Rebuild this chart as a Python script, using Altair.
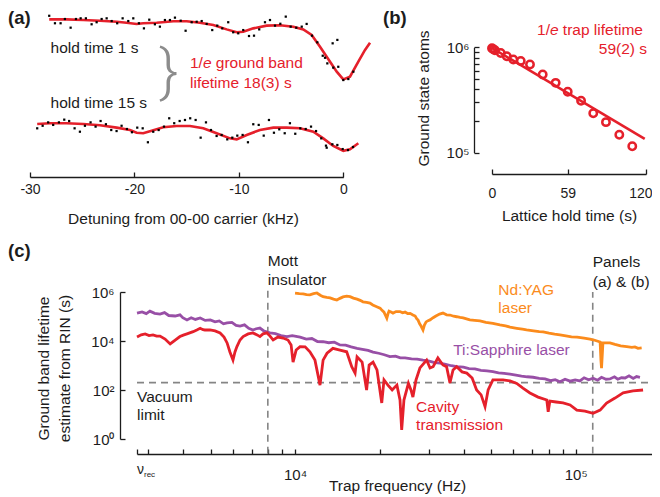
import altair as alt
import pandas as pd

FONT = "Liberation Sans"
INK = "#1c1c1c"
RED = "#e5202b"
ORANGE = "#fb8b1c"
PURPLE = "#984fa6"
GREY = "#858585"

W, H = 644, 489

# ---------------- panel (a): spectra (detuning kHz, signal arb. units) ----------------
a_fit1_khz = [-28.16, -26.49, -24.90, -23.30, -21.70, -20.75, -19.79, -19.16, -17.87, -16.28,
              -15.00, -13.73, -12.45, -11.17, -10.21, -9.58, -8.62, -7.34, -6.06, -4.79,
              -3.83, -3.03, -2.23, -1.27, -0.63, 0.00, 0.64, 1.44, 2.08, 2.56]
a_fit1_sig = [0.945, 0.945, 0.941, 0.937, 0.931, 0.925, 0.918, 0.922, 0.925, 0.934,
              0.934, 0.925, 0.912, 0.886, 0.869, 0.872, 0.892, 0.908, 0.910, 0.902,
              0.886, 0.853, 0.784, 0.696, 0.637, 0.592, 0.608, 0.696, 0.765, 0.808]
a_fit15_khz = [-29.31, -28.09, -26.49, -24.90, -23.30, -21.70, -20.43, -19.79, -19.16, -18.35,
               -17.24, -15.96, -14.68, -13.41, -12.13, -10.85, -10.21, -9.25, -7.98, -6.70,
               -5.42, -4.15, -2.87, -1.92, -0.96, 0.00, 0.64, 1.44]
a_fit15_sig = [0.329, 0.334, 0.334, 0.329, 0.322, 0.308, 0.294, 0.278, 0.275, 0.290,
               0.310, 0.318, 0.318, 0.304, 0.275, 0.245, 0.239, 0.265, 0.294, 0.308,
               0.308, 0.304, 0.284, 0.245, 0.200, 0.172, 0.181, 0.216]
a_dot1_khz = [-28.16, -27.61, -27.07, -26.66, -26.11, -25.60, -25.15, -24.65, -24.10, -23.62,
              -23.14, -22.66, -22.18, -21.65, -21.13, -20.59, -20.11, -19.57, -19.09, -18.58,
              -18.04, -17.56, -17.08, -16.60, -16.12, -15.57, -15.10, -14.52, -14.04, -13.56,
              -13.08, -12.55, -12.07, -11.59, -11.02, -10.54, -10.06, -9.58, -9.03, -8.55,
              -8.05, -7.50, -7.02, -6.54, -6.03, -5.51, -5.04, -4.50, -3.98, -3.51,
              -3.00, -2.49, -1.97, -1.53, -1.75, -1.02, -0.57, -0.96, -0.48, 0.00,
              0.48, 0.96]
a_dot1_sig = [0.966, 0.922, 0.922, 0.947, 0.896, 0.947, 0.951, 0.951, 0.916, 0.928,
              0.947, 0.951, 0.935, 0.922, 0.951, 0.935, 0.951, 0.922, 0.892, 0.943,
              0.916, 0.902, 0.941, 0.941, 0.955, 0.937, 0.878, 0.928, 0.931, 0.935,
              0.918, 0.882, 0.908, 0.892, 0.928, 0.869, 0.863, 0.882, 0.847, 0.849,
              0.886, 0.928, 0.941, 0.908, 0.919, 0.961, 0.902, 0.896, 0.902, 0.918,
              0.849, 0.810, 0.731, 0.686, 0.719, 0.804, 0.824, 0.661, 0.666, 0.588,
              0.594, 0.637]
a_dot15_khz = [-29.31, -28.79, -28.26, -27.78, -27.23, -26.72, -26.25, -25.73, -25.22, -24.74,
               -24.20, -23.72, -23.24, -22.73, -22.22, -21.71, -21.23, -20.72, -20.24, -19.73,
               -19.21, -18.71, -18.20, -17.68, -17.17, -16.67, -16.19, -15.67, -15.16, -14.66,
               -14.14, -13.66, -13.15, -12.67, -12.13, -11.65, -11.11, -10.63, -10.15, -9.64,
               -9.13, -8.62, -8.10, -7.62, -7.12, -6.64, -6.13, -5.61, -5.11, -4.60,
               -4.12, -3.60, -3.09, -2.61, -2.11, -1.66, -1.59, -1.05, -0.57, -0.06,
               0.45, 0.93]
a_dot15_sig = [0.304, 0.319, 0.339, 0.324, 0.339, 0.355, 0.347, 0.304, 0.284, 0.319,
               0.339, 0.314, 0.347, 0.328, 0.294, 0.288, 0.319, 0.300, 0.281, 0.308,
               0.304, 0.222, 0.284, 0.294, 0.314, 0.363, 0.334, 0.347, 0.353, 0.363,
               0.353, 0.249, 0.339, 0.294, 0.259, 0.265, 0.239, 0.249, 0.261, 0.265,
               0.222, 0.328, 0.324, 0.261, 0.353, 0.278, 0.298, 0.275, 0.334, 0.272,
               0.304, 0.300, 0.314, 0.288, 0.245, 0.202, 0.190, 0.210, 0.206, 0.182,
               0.176, 0.194]

# ---------------- panel (b): trap lifetime ----------------
b_hold_s = [0, 1, 2.3, 6.8, 11.5, 16.6, 22.4, 29.6, 39.5, 49.6, 59.0, 69.4, 78.9, 88.8, 99.2, 109.3]
b_atoms = [9.8e5, 9.6e5, 9.37e5, 8.83e5, 8.22e5, 7.66e5, 7.43e5, 6.87e5, 5.52e5, 4.60e5,
           3.79e5, 3.11e5, 2.37e5, 1.95e5, 1.48e5, 1.15e5]
b_fit_s = [0, 119]
b_fit_atoms = [9.85e5, 1.35e5]

# ---------------- panel (c): [log10 trap frequency (Hz), log10 lifetime (s)] ----------------
NU_REC = 2735
F_MAX = 187000
MOTT_HZ = 8000
PANELS_HZ = 115000
VACUUM_S = 200

c_tisapphire = [
    [3.437, 5.14], [3.455, 5.19], [3.470, 5.12], [3.483, 5.22], [3.500, 5.13], [3.519, 5.10],
    [3.535, 5.16], [3.550, 5.04], [3.573, 5.02], [3.590, 5.07], [3.600, 4.95], [3.615, 4.86],
    [3.630, 4.95], [3.645, 4.88], [3.662, 4.94], [3.680, 4.84], [3.698, 4.86], [3.715, 4.78],
    [3.730, 4.82], [3.745, 4.70], [3.758, 4.74], [3.775, 4.76], [3.790, 4.64], [3.804, 4.61],
    [3.820, 4.66], [3.835, 4.52], [3.850, 4.45], [3.862, 4.50], [3.875, 4.53], [3.890, 4.40],
    [3.911, 4.33], [3.930, 4.30], [3.950, 4.22], [3.971, 4.18], [3.990, 4.22], [4.018, 4.16],
    [4.040, 4.08], [4.060, 4.10], [4.080, 3.98], [4.100, 3.97], [4.120, 3.93], [4.140, 3.95],
    [4.160, 3.84], [4.180, 3.83], [4.200, 3.76], [4.221, 3.70], [4.240, 3.66], [4.260, 3.62],
    [4.278, 3.55], [4.298, 3.50], [4.318, 3.44], [4.338, 3.36], [4.358, 3.38], [4.375, 3.31],
    [4.392, 3.31], [4.415, 3.27], [4.435, 3.26], [4.456, 3.22], [4.475, 3.19], [4.497, 3.12],
    [4.517, 3.10], [4.537, 3.05], [4.557, 2.99], [4.577, 2.95], [4.600, 2.93], [4.620, 2.87],
    [4.641, 2.86], [4.662, 2.80], [4.684, 2.78], [4.705, 2.75], [4.725, 2.70], [4.745, 2.68],
    [4.766, 2.65], [4.787, 2.61], [4.807, 2.57], [4.827, 2.54], [4.848, 2.52], [4.870, 2.47],
    [4.891, 2.45], [4.910, 2.38], [4.927, 2.42], [4.944, 2.34], [4.962, 2.44], [4.980, 2.36],
    [4.998, 2.41], [5.015, 2.37], [5.030, 2.50], [5.046, 2.42], [5.062, 2.48], [5.078, 2.40],
    [5.092, 2.52], [5.108, 2.44], [5.122, 2.45], [5.138, 2.54], [5.150, 2.44], [5.163, 2.50],
    [5.176, 2.49], [5.190, 2.58], [5.205, 2.47], [5.217, 2.55], [5.229, 2.52]]

c_ndyag = [
    [4.000, 5.95], [4.015, 5.93], [4.029, 5.92], [4.041, 5.89], [4.053, 5.88], [4.066, 5.93],
    [4.078, 5.96], [4.090, 5.87], [4.100, 5.81], [4.113, 5.78], [4.125, 5.76], [4.137, 5.71],
    [4.149, 5.67], [4.160, 5.74], [4.171, 5.80], [4.184, 5.83], [4.196, 5.81], [4.208, 5.75],
    [4.221, 5.71], [4.232, 5.66], [4.242, 5.60], [4.255, 5.58], [4.267, 5.55], [4.277, 5.47],
    [4.285, 5.43], [4.295, 5.38], [4.303, 5.34], [4.310, 5.25], [4.317, 5.18], [4.322, 5.05],
    [4.327, 4.93], [4.331, 5.10], [4.335, 5.22], [4.342, 5.18], [4.349, 5.14], [4.360, 5.20],
    [4.374, 5.20], [4.383, 5.15], [4.392, 5.18], [4.401, 5.12], [4.410, 5.13], [4.420, 5.06],
    [4.428, 5.02], [4.434, 4.90], [4.438, 4.86], [4.444, 4.70], [4.449, 4.61], [4.453, 4.52],
    [4.456, 4.45], [4.461, 4.65], [4.467, 4.78], [4.474, 4.83], [4.481, 4.86], [4.492, 4.95],
    [4.502, 5.02], [4.515, 5.10], [4.527, 5.14], [4.540, 5.07], [4.552, 5.06], [4.565, 5.01],
    [4.576, 4.99], [4.588, 4.96], [4.599, 4.94], [4.611, 4.90], [4.623, 4.86], [4.640, 4.84],
    [4.659, 4.82], [4.680, 4.76], [4.705, 4.72], [4.730, 4.66], [4.750, 4.62], [4.766, 4.57],
    [4.790, 4.52], [4.810, 4.48], [4.825, 4.45], [4.850, 4.41], [4.870, 4.38], [4.884, 4.37],
    [4.905, 4.32], [4.925, 4.28], [4.944, 4.25], [4.965, 4.21], [4.985, 4.17], [5.005, 4.16],
    [5.030, 4.12], [5.051, 4.08], [5.065, 4.04], [5.076, 4.00], [5.087, 3.96], [5.090, 3.20],
    [5.092, 2.89], [5.094, 3.30], [5.097, 3.92], [5.110, 3.92], [5.122, 3.92], [5.140, 3.86],
    [5.160, 3.80], [5.182, 3.77], [5.200, 3.74], [5.211, 3.76], [5.222, 3.70], [5.235, 3.72]]

c_cavity = [
    [3.437, 4.16], [3.452, 4.25], [3.466, 4.29], [3.480, 4.22], [3.494, 4.25], [3.507, 4.20],
    [3.519, 4.20], [3.537, 4.08], [3.555, 3.88], [3.573, 4.04], [3.590, 4.18], [3.602, 4.24],
    [3.615, 4.29], [3.637, 4.38], [3.650, 4.45], [3.662, 4.52], [3.672, 4.46], [3.679, 4.45],
    [3.697, 4.45], [3.715, 4.41], [3.733, 4.33], [3.747, 4.16], [3.758, 3.92], [3.768, 3.55],
    [3.779, 3.22], [3.786, 3.55], [3.793, 3.77], [3.804, 4.04], [3.815, 4.18], [3.833, 4.29],
    [3.850, 4.33], [3.865, 4.25], [3.875, 4.18], [3.886, 4.29], [3.900, 4.33], [3.911, 4.20],
    [3.922, 4.04], [3.939, 4.16], [3.957, 4.12], [3.975, 4.04], [3.986, 3.84], [3.993, 3.14],
    [4.004, 3.63], [4.018, 3.77], [4.036, 3.76], [4.053, 3.56], [4.071, 3.22], [4.089, 2.20],
    [4.100, 3.22], [4.114, 3.50], [4.135, 3.70], [4.160, 3.63], [4.184, 3.56], [4.202, 2.95],
    [4.214, 2.69], [4.221, 3.35], [4.239, 3.14], [4.255, 2.00], [4.264, 3.02], [4.278, 3.14],
    [4.292, 2.82], [4.309, 1.47], [4.317, 2.41], [4.331, 2.20], [4.346, 2.00], [4.363, 2.20],
    [4.374, 1.59], [4.380, 0.37], [4.388, 1.59], [4.404, 2.27], [4.413, 2.00], [4.420, 1.71],
    [4.431, 2.41], [4.445, 2.90], [4.469, 3.22], [4.481, 2.90], [4.492, 2.95], [4.509, 3.31],
    [4.527, 3.02], [4.540, 2.95], [4.552, 2.29], [4.563, 2.82], [4.576, 2.95], [4.595, 2.74],
    [4.612, 2.69], [4.631, 2.49], [4.647, 2.00], [4.663, 1.80], [4.677, 1.32], [4.688, 2.00],
    [4.705, 2.41], [4.741, 2.41], [4.766, 2.37], [4.790, 2.27], [4.812, 2.08], [4.837, 1.88],
    [4.866, 1.71], [4.897, 1.59], [4.902, 1.11], [4.908, 1.55], [4.930, 1.51], [4.955, 1.47],
    [4.980, 1.39], [5.004, 1.18], [5.033, 1.14], [5.062, 1.05], [5.087, 1.18], [5.110, 1.47],
    [5.140, 1.67], [5.169, 1.88], [5.204, 1.96], [5.240, 2.00]]

c_x_ticks = [NU_REC, 3000, 4000, 5000, 6000, 7000, 8000, 9000, 10000,
             20000, 30000, 40000, 50000, 60000, 70000, 80000, 90000, 100000]
c_y_ticks = [1, 100, 10000, 1000000]
b_y_ticks = [100000, 200000, 300000, 400000, 500000, 600000, 700000, 800000, 900000, 1000000]

# ---------------- helpers ----------------
AXS = dict(grid=False, domainColor=INK, domainWidth=1.3, tickColor=INK, tickWidth=1.3,
           tickSize={"expr": "-5"}, labelFont=FONT, labelColor=INK, labelFontSize=14,
           labelFlush=False, labelOverlap=False, titleFont=FONT, titleColor=INK,
           titleFontSize=15.5, titleFontWeight="normal", titleBaseline="alphabetic")


def axis(**kw):
    opts = dict(AXS)
    opts.update(kw)
    return alt.Axis(**opts)


def lin(domain, rng, kind="linear"):
    return alt.Scale(type=kind, domain=domain, range=rng, nice=False, zero=False)


def text_mark(df, color, size=15.5, align="left", dx=0, style="normal"):
    return alt.Chart(df).mark_text(align=align, baseline="alphabetic", dx=dx, font=FONT,
                                   fontSize=size, fontStyle=style, color=color)


# ---------------- panel (a) ----------------
sc_ax = lin([-30, 0], [22, 335.3])
sc_ay = lin([0, 1], [172, 2])
ax_a = axis(orient="bottom", offset=169 - H, values=[-30, -20, -10, 0],
            labelExpr="'' + datum.value", labelPadding=10,
            title="Detuning from 00-00 carrier (kHz)", titleX=175, titleY=46)


def XA(f):
    return alt.X(f, type="quantitative", scale=sc_ax, axis=ax_a)


def YA(f):
    return alt.Y(f, type="quantitative", scale=sc_ay, axis=None)


a_fits = pd.DataFrame(
    [{"khz": k, "sig": s, "hold": "1 s"} for k, s in zip(a_fit1_khz, a_fit1_sig)]
    + [{"khz": k, "sig": s, "hold": "15 s"} for k, s in zip(a_fit15_khz, a_fit15_sig)])
a_dots = pd.DataFrame(
    [{"khz": k, "sig": s} for k, s in zip(a_dot1_khz, a_dot1_sig)]
    + [{"khz": k, "sig": s} for k, s in zip(a_dot15_khz, a_dot15_sig)])
a_notes_black = pd.DataFrame({"khz": [-28.03, -28.03], "sig": [0.745, 0.424],
                              "label": ["hold time 1 s", "hold time 15 s"]})
a_red_anchor = pd.DataFrame({"khz": [-14.68], "sig": [0.659]})
a_red_line2 = pd.DataFrame({"khz": [-14.68], "sig": [0.541], "label": ["lifetime 18(3) s"]})
a_brace = pd.DataFrame({"khz": [-16.7], "sig": [0.632]})

panel_a = alt.layer(
    alt.Chart(a_fits).mark_line(color=RED, strokeWidth=2.6).encode(
        x=XA("khz"), y=YA("sig"), detail="hold:N"),
    alt.Chart(a_dots).mark_square(color="black", size=5, opacity=1).encode(
        x=XA("khz"), y=YA("sig")),
    text_mark(a_notes_black, INK).encode(x=XA("khz"), y=YA("sig"), text="label:N"),
    text_mark(a_red_anchor, RED).encode(x=XA("khz"), y=YA("sig"), text=alt.value("1/")),
    text_mark(a_red_anchor, RED, dx=12.9, style="italic").encode(
        x=XA("khz"), y=YA("sig"), text=alt.value("e")),
    text_mark(a_red_anchor, RED, dx=25.8).encode(
        x=XA("khz"), y=YA("sig"), text=alt.value("ground band")),
    text_mark(a_red_line2, RED).encode(x=XA("khz"), y=YA("sig"), text="label:N"),
    alt.Chart(a_brace).mark_text(align="center", baseline="middle", font="Roboto",
                                 fontWeight=300, fontSize=58, color="#8c8c8c").encode(
        x=XA("khz"), y=YA("sig"), text=alt.value("}")),
)

# ---------------- panel (b) ----------------
sc_bx = lin([0, 120], [484, 638])
sc_by = lin([1e5, 1e6], [144.7, 39.3], "log")
ax_bx = axis(orient="bottom", offset=166 - H, values=[0, 59, 120], labelPadding=17,
             labelAlign={"condition": {"test": "datum.value == 120", "value": "right"},
                         "value": "center"},
             labelOffset={"condition": {"test": "datum.value == 120", "value": 6},
                          "value": 0},
             title="Lattice hold time (s)", titleX=561, titleY=46)
ax_by = axis(orient="left", offset=-466, values=b_y_ticks, labelPadding=10,
             labelFontSize=15,
             labelExpr="datum.value == 100000 ? '10\u2075' : datum.value == 1000000 ? '10\u2076' : ''",
             title="Ground state atoms", titleAngle=270, titleAlign="center",
             titleX=-46, titleY=90)


def XB(f):
    return alt.X(f, type="quantitative", scale=sc_bx, axis=ax_bx)


def YB(f):
    return alt.Y(f, type="quantitative", scale=sc_by, axis=ax_by)


b_pts = pd.DataFrame({"t": b_hold_s, "n": b_atoms})
b_fit = pd.DataFrame({"t": b_fit_s, "n": b_fit_atoms})
b_anchor = pd.DataFrame({"t": [35.1], "n": [1.318e6]})
b_tau = pd.DataFrame({"t": [120.8], "n": [8.72e5], "label": ["59(2) s"]})

panel_b = alt.layer(
    alt.Chart(b_fit).mark_line(color=RED, strokeWidth=2.6).encode(x=XB("t"), y=YB("n")),
    alt.Chart(b_pts).mark_point(shape="circle", filled=False, size=55, strokeWidth=2.5,
                                color=RED, opacity=1).encode(x=XB("t"), y=YB("n")),
    text_mark(b_anchor, RED).encode(x=XB("t"), y=YB("n"), text=alt.value("1/")),
    text_mark(b_anchor, RED, dx=12.9, style="italic").encode(
        x=XB("t"), y=YB("n"), text=alt.value("e")),
    text_mark(b_anchor, RED, dx=25.8).encode(
        x=XB("t"), y=YB("n"), text=alt.value("trap lifetime")),
    text_mark(b_tau, RED, align="right").encode(x=XB("t"), y=YB("n"), text="label:N"),
)

# ---------------- panel (c) ----------------
sc_cx = lin([NU_REC, F_MAX], [129, 644], "log")
sc_cy = lin([1, 1e6], [431, 284], "log")
ax_cx = axis(orient="bottom", offset=446 - H, values=c_x_ticks, labelPadding=18,
             labelFontSize=15,
             labelExpr="datum.value == 10000 ? '10\u2074' : datum.value == 100000 ? '10\u2075' : ''",
             title="Trap frequency (Hz)", titleX=389, titleY=36)
ax_cy = axis(orient="left", offset=-112, values=c_y_ticks, labelPadding=11,
             labelFontSize=15,
             labelExpr="datum.value == 1 ? '10\u2070' : datum.value == 100 ? '10\u00b2' : datum.value == 10000 ? '10\u2074' : '10\u2076'",
             title=["Ground band lifetime", "estimate from RIN (s)"], titleAngle=270,
             titleAlign="center", titleLineHeight=21, titleX=-72, titleY=360)


def XC(f):
    return alt.X(f, type="quantitative", scale=sc_cx, axis=ax_cx)


def YC(f):
    return alt.Y(f, type="quantitative", scale=sc_cy, axis=ax_cy)


def spectrum(pairs, name):
    return pd.DataFrame({"f": [10 ** p[0] for p in pairs],
                         "life": [10 ** p[1] for p in pairs], "src": name})


c_red = spectrum(c_cavity, "Cavity transmission")
c_purple = spectrum(c_tisapphire, "Ti:Sapphire laser")
c_orange = spectrum(c_ndyag, "Nd:YAG laser")
c_vac = pd.DataFrame({"f": [NU_REC], "f2": [F_MAX], "life": [VACUUM_S]})
c_vert = pd.DataFrame({"f": [MOTT_HZ, PANELS_HZ], "lo": [0.25, 0.25], "hi": [1.2e6, 1.0e6]})

c_notes = pd.DataFrame([
    {"f": MOTT_HZ, "life": 1.15e7, "label": "Mott", "color": INK},
    {"f": MOTT_HZ, "life": 1.93e6, "label": "insulator", "color": INK},
    {"f": PANELS_HZ, "life": 1.08e7, "label": "Panels", "color": INK},
    {"f": PANELS_HZ, "life": 1.645e6, "label": "(a) & (b)", "color": INK},
    {"f": 53000, "life": 7.55e5, "label": "Nd:YAG", "color": ORANGE},
    {"f": 53000, "life": 1.35e5, "label": "laser", "color": ORANGE},
    {"f": 36600, "life": 2.68e3, "label": "Ti:Sapphire laser", "color": PURPLE},
    {"f": 27000, "life": 13.0, "label": "Cavity", "color": RED},
    {"f": 27000, "life": 2.33, "label": "transmission", "color": RED},
    {"f": NU_REC, "life": 33.3, "label": "Vacuum", "color": INK},
    {"f": NU_REC, "life": 5.97, "label": "limit", "color": INK},
])
c_nurec = pd.DataFrame({"f": [NU_REC]})

panel_c = alt.layer(
    alt.Chart(c_vac).mark_rule(color=GREY, strokeWidth=1.6, strokeDash=[7, 5]).encode(
        x=XC("f"), x2="f2", y=YC("life")),
    alt.Chart(c_vert).mark_rule(color=GREY, strokeWidth=1.6, strokeDash=[7, 5]).encode(
        x=XC("f"), y=YC("lo"), y2="hi"),
    alt.Chart(c_purple).mark_line(color=PURPLE, strokeWidth=2.8).encode(
        x=XC("f"), y=YC("life")),
    alt.Chart(c_red).mark_line(color=RED, strokeWidth=2.8).encode(
        x=XC("f"), y=YC("life")),
    alt.Chart(c_orange).mark_line(color=ORANGE, strokeWidth=2.8).encode(
        x=XC("f"), y=YC("life")),
    alt.Chart(c_notes).mark_text(align="left", baseline="alphabetic", font=FONT,
                                 fontSize=15.5).encode(
        x=XC("f"), y=YC("life"), text="label:N", color=alt.Color("color:N", scale=None)),
    alt.Chart(c_nurec).mark_text(align="left", baseline="alphabetic", font=FONT,
                                 fontSize=14, color=INK).encode(
        x=XC("f"), y=alt.value(466), text=alt.value("\u03bd")),
    alt.Chart(c_nurec).mark_text(align="left", baseline="alphabetic", font=FONT,
                                 fontSize=8, color=INK, dx=7).encode(
        x=XC("f"), y=alt.value(469), text=alt.value("rec")),
)

# ---------------- panel letters ----------------
PANEL_TAGS = [("(a)", 0, 15.5), ("(b)", 375, 15.5), ("(c)", 0, 249)]
letters = alt.layer(*[
    alt.Chart(alt.Data(values=[{}])).mark_text(
        align="left", baseline="alphabetic", font=FONT, fontSize=18.5, fontWeight="bold",
        color=INK).encode(x=alt.value(px), y=alt.value(py), text=alt.value(s))
    for s, px, py in PANEL_TAGS])

chart = alt.layer(panel_a, panel_b, panel_c, letters).resolve_scale(
    x="independent", y="independent"
).properties(
    width=W, height=H, autosize=alt.AutoSizeParams(type="none"), padding=0
).configure_view(strokeWidth=0)

chart.save("out.html", embed_options={"renderer": "svg", "actions": False})
